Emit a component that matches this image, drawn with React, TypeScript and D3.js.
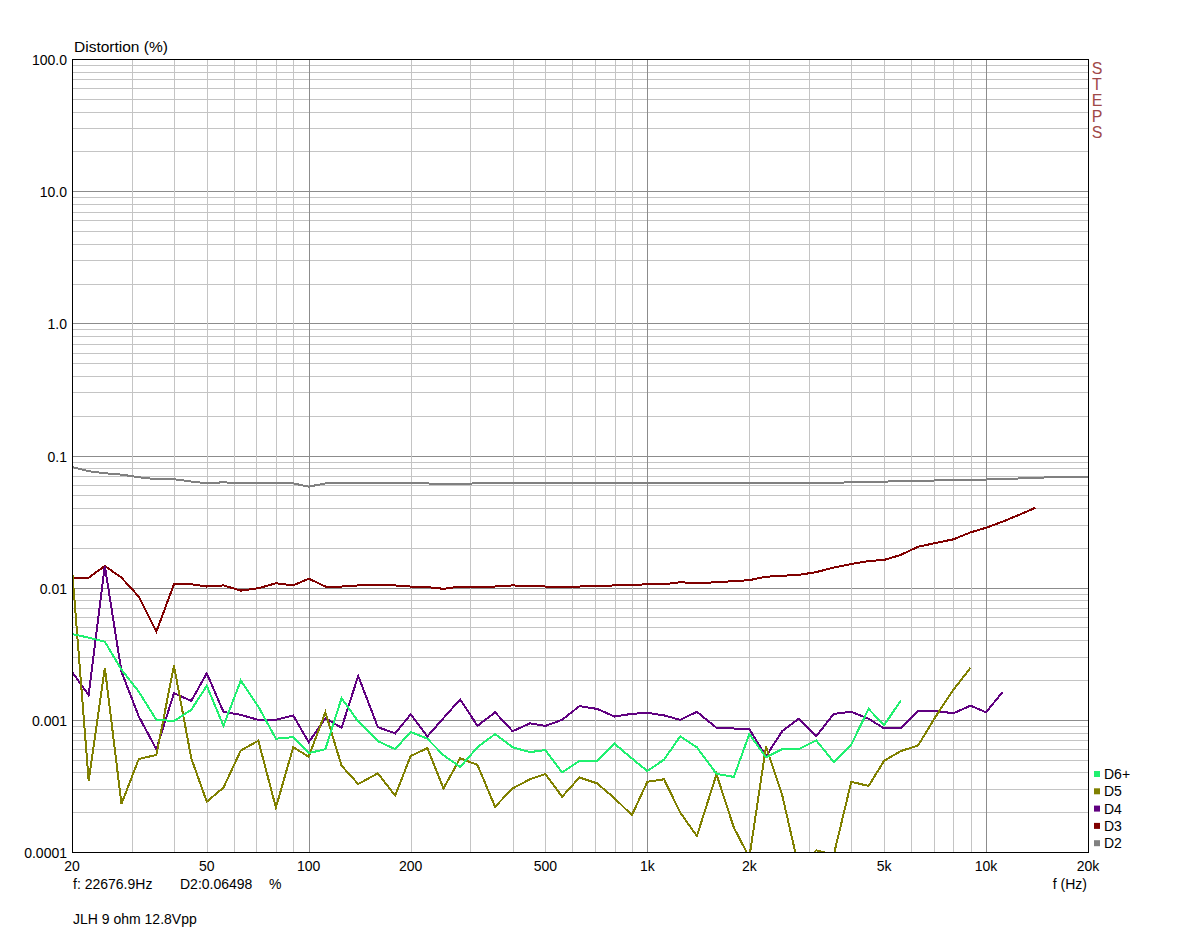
import * as d3 from 'd3';

// frequency points (1/6 octave, Hz)
const freqs = [
  20, 22.4, 25, 28, 31.5, 35.5, 40, 45, 50, 56, 63, 71, 80, 90,
  100, 112, 125, 140, 160, 180, 200, 224, 250, 280, 315, 355, 400, 450, 500, 560, 630, 710, 800, 900,
  1000, 1120, 1250, 1400, 1600, 1800, 2000, 2240, 2500, 2800, 3150, 3550, 4000, 4500, 5000, 5600, 6300, 7100, 8000, 9000,
  10000, 11200, 12500, 14000, 16000, 18000, 20000,
];

// distortion in %, one value per frequency point (series stop where the measurement stops)
const d2 = [
  0.082, 0.076, 0.0734, 0.0717, 0.0685, 0.0662, 0.0662, 0.0635, 0.0617, 0.0627,
  0.0615, 0.0615, 0.0615, 0.0615, 0.0581, 0.0615, 0.0615, 0.0615, 0.0615, 0.0615,
  0.0615, 0.0615, 0.0605, 0.0605, 0.0618, 0.0618, 0.0618, 0.0618, 0.0618, 0.0618,
  0.0618, 0.0618, 0.0618, 0.0618, 0.0618, 0.0618, 0.0618, 0.0618, 0.0618, 0.0618,
  0.0618, 0.0618, 0.0618, 0.0618, 0.0618, 0.0618, 0.063, 0.0632, 0.0635, 0.0638,
  0.0645, 0.0647, 0.065, 0.0655, 0.0658, 0.0666, 0.067, 0.0677, 0.0688, 0.0688, 0.0688,
];
const d3Vals = [
  0.0119, 0.0119, 0.0146, 0.0119, 0.00855, 0.00465, 0.0106, 0.0106, 0.0102, 0.0104,
  0.0095, 0.0099, 0.0108, 0.0104, 0.0117, 0.0102, 0.0102, 0.0104, 0.0104, 0.0104,
  0.0102, 0.0101, 0.0098, 0.0102, 0.0102, 0.0102, 0.0104, 0.0103, 0.0102, 0.0102,
  0.0102, 0.0103, 0.0104, 0.0105, 0.0106, 0.0106, 0.011, 0.0108, 0.011, 0.0112,
  0.0114, 0.0121, 0.0123, 0.0125, 0.0131, 0.0142, 0.0151, 0.0159, 0.0162, 0.0177,
  0.0204, 0.0218, 0.0232, 0.0262, 0.0284, 0.0316, 0.0355, 0.0403,
];
const d4 = [
  0.00231, 0.00154, 0.0146, 0.00231, 0.00106, 0.000598, 0.00159, 0.00139, 0.00225, 0.00115,
  0.00109, 0.001, 0.001, 0.00108, 0.000676, 0.00103, 0.00087, 0.00215, 0.00088, 0.00079,
  0.0011, 0.00075, 0.00103, 0.00143, 0.0009, 0.00114, 0.00082, 0.00094, 0.0009, 0.001,
  0.00127, 0.00121, 0.00106, 0.00111, 0.00113, 0.00108, 0.001, 0.00115, 0.00087, 0.00086,
  0.00085, 0.00053, 0.00082, 0.00102, 0.00075, 0.00111, 0.00115, 0.00102, 0.00086, 0.00086,
  0.00117, 0.00117, 0.00112, 0.00128, 0.00114, 0.00163,
];
const d5 = [
  0.014, 0.000347, 0.00248, 0.000231, 0.000506, 0.000542, 0.00257, 0.000512, 0.00024, 0.000307,
  0.000585, 0.000696, 0.000217, 0.00062, 0.000526, 0.00114, 0.00045, 0.000327, 0.000394, 0.000267,
  0.000533, 0.00061, 0.000303, 0.000512, 0.000456, 0.00022, 0.000303, 0.000355, 0.000389, 0.000262,
  0.000366, 0.000331, 0.000255, 0.00019, 0.00034, 0.000355, 0.000199, 0.000132, 0.000387, 0.000153,
  0.000091, 0.00063, 0.00027, 0.000076, 0.000103, 0.000095, 0.00034, 0.000316, 0.00049, 0.00058,
  0.00064, 0.00106, 0.00168, 0.00248,
];
const d6 = [
  0.00446, 0.00419, 0.0039, 0.0024, 0.00163, 0.001, 0.00098, 0.00119, 0.00181, 0.0009,
  0.00198, 0.00126, 0.00072, 0.00074, 0.00056, 0.0006, 0.00146, 0.00097, 0.00069, 0.0006,
  0.00081, 0.00072, 0.00054, 0.00044, 0.00062, 0.00078, 0.00062, 0.00057, 0.00059, 0.0004,
  0.00049, 0.00049, 0.00066, 0.00051, 0.00041, 0.0005, 0.00075, 0.00062, 0.00039, 0.00037,
  0.00078, 0.00052, 0.0006, 0.0006, 0.0007, 0.00048, 0.00065, 0.00121, 0.00091, 0.0014,
];

const seriesNames = ['D2', 'D3', 'D4', 'D5', 'D6+'];
const seriesColors = ['#808080', '#800000', '#600080', '#808000', '#20f070'];
const seriesData = [d2, d3Vals, d4, d5, d6];

const xTickVals = [20, 50, 100, 200, 500, 1000, 2000, 5000, 10000, 20000];
const xTickLabels = ['20', '50', '100', '200', '500', '1k', '2k', '5k', '10k', '20k'];
const yTickVals = [0.0001, 0.001, 0.01, 0.1, 1, 10, 100];
const yTickLabels = ['0.0001', '0.001', '0.01', '0.1', '1.0', '10.0', '100.0'];

const FONT = '"Liberation Sans", Arial, sans-serif';

export default function App() {
  const left = 72, right = 1088, top = 59, bottom = 852;
  const x = d3.scaleLog().domain([20, 20000]).range([left, right]);
  const y = d3.scaleLog().domain([0.0001, 100]).range([bottom, top]);
  const px = (v: number) => Math.round(v) + 0.5;

  // grid: every 1..9 multiple of a decade
  const xGrid: { v: number; major: boolean }[] = [];
  [10, 100, 1000, 10000].forEach((dec) => {
    for (let m = 1; m <= 9; m++) {
      const f = m * dec;
      if (f > 20 && f < 20000) xGrid.push({ v: f, major: m === 1 });
    }
  });
  const yGrid: { v: number; major: boolean }[] = [];
  [0.0001, 0.001, 0.01, 0.1, 1, 10].forEach((dec) => {
    for (let m = 1; m <= 9; m++) {
      const v = m * dec;
      if (v > 0.0001 * 1.0001 && v < 100 * 0.9999) yGrid.push({ v, major: m === 1 });
    }
  });

  const line = d3
    .line<number>()
    .x((_, i) => x(freqs[i]))
    .y((d) => y(d));

  const legendOrder = [4, 3, 2, 1, 0];

  return (
    <svg
      width={1198}
      height={932}
      style={{ position: 'absolute', left: 0, top: 0, background: '#fff', fontFamily: FONT }}
    >
      <defs>
        <clipPath id="plot">
          <rect x={left} y={top} width={right - left} height={bottom - top} />
        </clipPath>
      </defs>
      <rect x={0} y={0} width={1198} height={932} fill="#fff" />

      {/* grid */}
      {yGrid.map((g, i) => (
        <line
          key={'yg' + i}
          x1={left}
          x2={right}
          y1={px(y(g.v))}
          y2={px(y(g.v))}
          stroke={g.major ? '#8c8c8c' : '#c4c4c4'}
          strokeWidth={1}
        />
      ))}
      {xGrid.map((g, i) => (
        <line
          key={'xg' + i}
          y1={top}
          y2={bottom}
          x1={px(x(g.v))}
          x2={px(x(g.v))}
          stroke={g.major ? '#8c8c8c' : '#c4c4c4'}
          strokeWidth={1}
        />
      ))}

      {/* series */}
      <g clipPath="url(#plot)">
        {seriesData.map((vals, s) => (
          <path
            key={seriesNames[s]}
            d={line(vals) || ''}
            fill="none"
            stroke={seriesColors[s]}
            strokeWidth={2}
            strokeLinejoin="miter"
            shapeRendering="crispEdges"
          />
        ))}
      </g>

      {/* frame */}
      <rect x={left + 0.5} y={top + 0.5} width={right - left} height={bottom - top} fill="none" stroke="#000" strokeWidth={1} />

      {/* y tick labels */}
      {yTickVals.map((v, i) => (
        <text key={'yl' + i} x={67} y={y(v) + 6} fontSize={14} textAnchor="end" fill="#000">
          {yTickLabels[i]}
        </text>
      ))}
      {/* x tick labels */}
      {xTickVals.map((v, i) => (
        <text key={'xl' + i} x={x(v)} y={870.5} fontSize={14} textAnchor="middle" fill="#000">
          {xTickLabels[i]}
        </text>
      ))}

      <text x={74} y={52} fontSize={15.5} fill="#000">Distortion (%)</text>
      <text x={1087} y={889} fontSize={14} textAnchor="end" fill="#000">f (Hz)</text>
      <text x={73} y={889} fontSize={14} fill="#000">f: 22676.9Hz</text>
      <text x={180} y={889} fontSize={14} fill="#000">D2:0.06498</text>
      <text x={269} y={889} fontSize={14} fill="#000">%</text>
      <text x={73} y={924} fontSize={14} fill="#000">JLH 9 ohm 12.8Vpp</text>

      {/* STEPS */}
      {['S', 'T', 'E', 'P', 'S'].map((c, i) => (
        <text key={'st' + i} x={1097} y={73.5 + i * 16} fontSize={16} textAnchor="middle" fill="#a04848">
          {c}
        </text>
      ))}

      {/* legend */}
      {legendOrder.map((s, i) => (
        <g key={'lg' + s} transform={`translate(1094,${774 + i * 17.3})`}>
          <rect x={0} y={-3} width={6} height={6} fill={seriesColors[s]} />
          <text x={10} y={5} fontSize={14} fill="#000">
            {seriesNames[s]}
          </text>
        </g>
      ))}
    </svg>
  );
}
